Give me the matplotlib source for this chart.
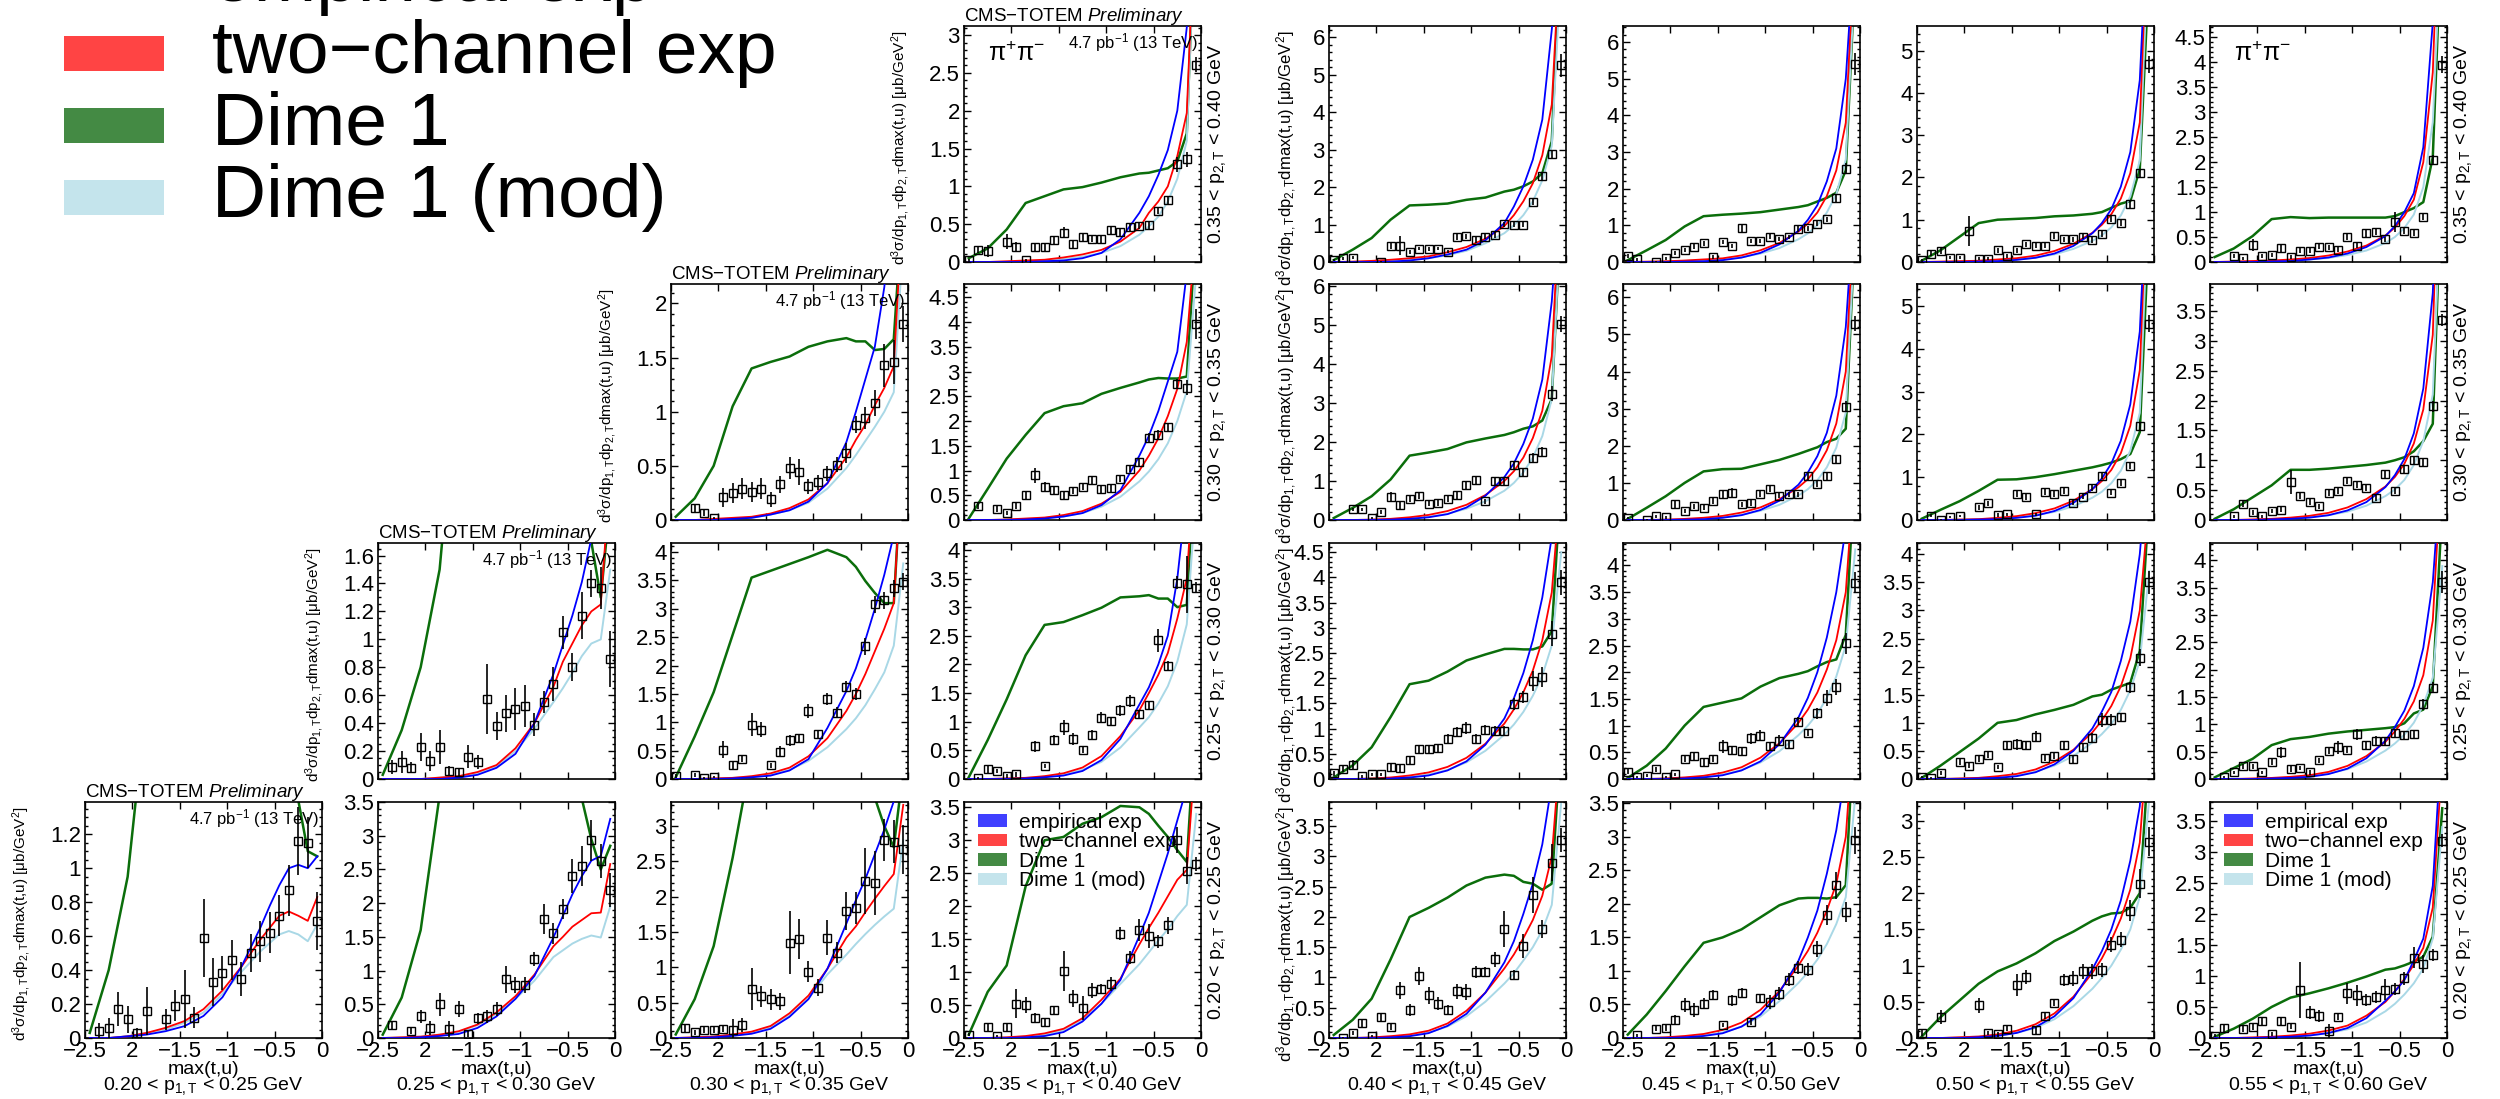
import numpy as np
import matplotlib
matplotlib.use("Agg")
import matplotlib.pyplot as plt
from matplotlib.patches import Patch, Rectangle
from matplotlib.ticker import MultipleLocator, AutoMinorLocator, FormatStrFormatter

plt.rcParams['font.family'] = ['Liberation Sans', 'DejaVu Sans']
plt.rcParams['mathtext.fontset'] = 'custom'
plt.rcParams['mathtext.rm'] = 'Liberation Sans'
plt.rcParams['mathtext.it'] = 'Liberation Sans:italic'
plt.rcParams['mathtext.bf'] = 'Liberation Sans:bold'


### Data ###

# bin centres of max(t,u) for the measured points
tu_bins = [-2.45, -2.35, -2.25, -2.15, -2.05, -1.95, -1.85, -1.75, -1.65, -1.55, -1.45, -1.35, -1.25,
           -1.15, -1.05, -0.95, -0.85, -0.75, -0.65, -0.55, -0.45, -0.35, -0.25, -0.15, -0.05]
# max(t,u) values where the model curves were read
tu_curve = [-2.45, -2.25, -2.05, -1.85, -1.65, -1.45, -1.25, -1.05, -0.85, -0.65, -0.55, -0.45, -0.35, -0.25, -0.15, -0.05]

# p_T bin edges
p1_bins = ['0.20', '0.25', '0.30', '0.35', '0.40', '0.45', '0.50', '0.55', '0.60']
p2_bins = ['0.35', '0.40', '0.30', '0.35', '0.25', '0.30', '0.20', '0.25']  # (low, high) per row, top row first

series_names = ['empirical exp', 'two\u2212channel exp', 'Dime 1', 'Dime 1 (mod)']

# measured cross section per panel (row r, column c), None = no point
data = {
    'r1c4': [0.02, 0.16, 0.15, None, 0.27, 0.2, 0.02, 0.2, 0.2, 0.29, 0.39, 0.24, 0.33, 0.31, 0.3, 0.42, 0.4, 0.46, 0.48, 0.49, 0.68, 0.82, 1.29, 1.36, 2.61],
    'r1c5': [0.05, 0.1, 0.12, None, None, 0.01, 0.44, 0.44, 0.26, 0.36, 0.34, 0.36, 0.28, 0.67, 0.69, 0.59, 0.68, 0.72, 1.01, 1.0, 1.0, 1.59, 2.3, 2.87, 5.25],
    'r1c6': [0.17, 0.07, None, 0.0, 0.1, 0.25, 0.32, 0.42, 0.51, 0.14, 0.54, 0.43, 0.92, 0.57, 0.58, 0.69, 0.62, 0.69, 0.9, 0.92, 1.04, 1.17, 1.75, 2.54, 5.4],
    'r1c7': [0.04, 0.2, 0.26, 0.1, 0.1, 0.74, 0.08, 0.08, 0.28, 0.14, 0.28, 0.42, 0.38, 0.38, 0.62, 0.54, 0.54, 0.6, 0.52, 0.66, 1.02, 0.92, 1.36, 2.1, 4.68],
    'r1c8': [None, None, 0.13, 0.08, 0.35, 0.13, 0.14, 0.28, 0.11, 0.23, 0.23, 0.31, 0.3, 0.25, 0.51, 0.33, 0.58, 0.61, 0.46, 0.81, 0.63, 0.58, 0.91, 2.05, 3.95],
    'r2c3': [None, None, 0.11, 0.065, 0.015, 0.21, 0.25, 0.29, 0.26, 0.29, 0.19, 0.33, 0.48, 0.44, 0.31, 0.35, 0.43, 0.51, 0.62, 0.88, 0.94, 1.08, 1.43, 1.46, 1.81],
    'r2c4': [None, 0.29, None, 0.22, 0.14, 0.28, 0.5, 0.9, 0.67, 0.6, 0.5, 0.58, 0.67, 0.8, 0.62, 0.64, 0.83, 1.04, 1.17, 1.66, 1.72, 1.87, 2.74, 2.67, 3.96],
    'r2c5': [None, None, 0.27, 0.27, 0.05, 0.2, 0.6, 0.38, 0.53, 0.61, 0.42, 0.44, 0.54, 0.63, 0.89, 1.02, 0.48, 1.0, 1.0, 1.4, 1.23, 1.6, 1.75, 3.24, 5.03],
    'r2c6': [0.05, None, 0.01, 0.1, 0.08, 0.42, 0.24, 0.37, 0.33, 0.5, 0.69, 0.74, 0.42, 0.46, 0.69, 0.83, 0.66, 0.69, 0.69, 1.19, 0.96, 1.19, 1.64, 3.05, 5.29],
    'r2c7': [None, 0.1, 0.01, 0.07, 0.09, None, 0.3, 0.39, 0.12, 0.13, 0.6, 0.54, 0.13, 0.66, 0.6, 0.68, 0.4, 0.54, 0.75, 1.03, 0.64, 0.87, 1.27, 2.19, 4.58],
    'r2c8': [None, None, 0.06, 0.26, 0.13, 0.06, 0.15, 0.17, 0.64, 0.4, 0.3, 0.23, 0.46, 0.48, 0.65, 0.59, 0.54, 0.37, 0.77, 0.48, 0.85, 1.0, 0.97, 1.9, 3.34],
    'r3c2': [None, 0.087, 0.12, 0.08, 0.23, 0.13, 0.23, 0.06, 0.05, 0.16, 0.12, 0.57, 0.38, 0.47, 0.5, 0.52, 0.39, 0.55, 0.68, 1.05, 0.8, 1.17, 1.40, 1.37, 0.86],
    'r3c3': [0.05, None, 0.07, 0.02, 0.04, 0.52, 0.24, 0.36, 0.96, 0.87, 0.24, 0.48, 0.68, 0.73, 1.2, 0.8, 1.41, 1.17, 1.63, 1.5, 2.34, 3.08, 3.15, 3.36, 3.48],
    'r3c4': [None, 0.02, 0.17, 0.14, 0.05, 0.08, None, 0.57, 0.23, 0.68, 0.9, 0.7, 0.51, 0.77, 1.07, 1.01, 1.2, 1.36, 1.13, 1.29, 2.42, 1.98, 3.43, 3.4, 3.34],
    'r3c5': [0.11, 0.19, 0.27, 0.05, 0.09, 0.09, 0.23, 0.21, 0.37, 0.59, 0.59, 0.61, 0.8, 0.93, 1.01, 0.8, 0.98, 0.95, 0.96, 1.49, 1.63, 1.95, 2.02, 2.88, 3.9],
    'r3c6': [0.14, 0.03, 0.06, 0.18, 0.03, 0.09, 0.38, 0.43, 0.31, 0.37, 0.61, 0.54, 0.52, 0.76, 0.81, 0.61, 0.72, 0.65, 1.07, 0.86, 1.23, 1.51, 1.72, 2.54, 3.68],
    'r3c7': [0.04, 0.02, 0.11, None, 0.3, 0.24, 0.36, 0.43, 0.21, 0.61, 0.62, 0.6, 0.75, 0.37, 0.41, 0.6, 0.36, 0.57, 0.73, 1.05, 1.05, 1.11, 1.63, 2.16, 3.5],
    'r3c8': [None, 0.03, 0.12, 0.23, 0.23, 0.12, 0.31, 0.49, 0.18, 0.2, 0.12, 0.34, 0.52, 0.58, 0.54, 0.82, 0.62, 0.7, 0.7, 0.84, 0.81, 0.82, 1.37, 1.67, 3.6],
    'r4c1': [None, 0.04, 0.06, 0.17, 0.11, 0.03, 0.16, None, 0.11, 0.19, 0.23, 0.12, 0.59, 0.33, 0.385, 0.46, 0.35, 0.50, 0.57, 0.62, 0.72, 0.87, 1.16, 1.15, 0.69],
    'r4c2': [None, 0.19, None, 0.11, 0.32, 0.15, 0.50, 0.13, 0.43, 0.06, 0.29, 0.32, 0.43, 0.87, 0.79, 0.78, 1.17, 1.76, 1.55, 1.91, 2.40, 2.55, 2.93, 2.62, 2.19],
    'r4c3': [None, 0.14, 0.08, 0.12, 0.12, 0.13, 0.12, 0.19, 0.69, 0.59, 0.55, 0.52, 1.35, 1.40, 0.94, 0.71, 1.42, 1.21, 1.80, 1.84, 2.22, 2.19, 2.80, 2.78, 2.67],
    'r4c4': [0.05, None, 0.16, 0.03, 0.16, 0.52, 0.50, 0.31, 0.24, 0.43, 1.02, 0.60, 0.46, 0.72, 0.75, 0.82, 1.58, 1.22, 1.64, 1.55, 1.47, 1.71, 3.0, 2.54, 2.64],
    'r4c5': [None, 0.0, 0.08, 0.24, 0.03, 0.35, 0.19, 0.79, 0.46, 1.03, 0.71, 0.57, 0.46, 0.77, 0.76, 1.09, 1.09, 1.3, 1.8, 1.04, 1.52, 2.36, 1.8, 2.9, 3.27],
    'r4c6': [None, 0.04, None, 0.14, 0.15, 0.27, 0.49, 0.42, 0.51, 0.64, 0.19, 0.56, 0.67, 0.24, 0.59, 0.54, 0.66, 0.87, 1.05, 1.02, 1.33, 1.84, 2.28, 1.88, 2.95],
    'r4c7': [0.07, None, 0.29, None, None, None, 0.45, 0.07, 0.05, 0.13, 0.73, 0.84, 0.11, 0.31, 0.49, 0.8, 0.82, 0.92, 0.92, 0.94, 1.29, 1.36, 1.76, 2.13, 2.71],
    'r4c8': [0.04, 0.16, None, 0.15, 0.18, 0.27, 0.06, 0.27, 0.18, 0.77, 0.41, 0.35, 0.11, 0.34, 0.72, 0.69, 0.61, 0.66, 0.78, 0.79, 0.96, 1.29, 1.19, 1.34, 3.18],
}

errs = {
    'r1c4': [0.02, 0.04, 0.08, 0, 0.1, 0.06, 0.02, 0.05, 0.05, 0.05, 0.07, 0.05, 0.05, 0.05, 0.05, 0.05, 0.05, 0.05, 0.05, 0.05, 0.05, 0.05, 0.1, 0.1, 0.1],
    'r1c5': [0.03, 0.04, 0.05, 0, 0, 0.03, 0.08, 0.25, 0.05, 0.05, 0.05, 0.05, 0.05, 0.07, 0.07, 0.07, 0.07, 0.07, 0.07, 0.07, 0.07, 0.08, 0.1, 0.12, 0.3],
    'r1c6': [0.05, 0.04, 0, 0.02, 0.04, 0.05, 0.06, 0.06, 0.06, 0.05, 0.06, 0.06, 0.12, 0.06, 0.06, 0.07, 0.06, 0.06, 0.07, 0.07, 0.07, 0.07, 0.1, 0.15, 0.3],
    'r1c7': [0.03, 0.06, 0.06, 0.04, 0.04, 0.35, 0.04, 0.04, 0.06, 0.04, 0.06, 0.06, 0.06, 0.06, 0.07, 0.06, 0.06, 0.06, 0.06, 0.07, 0.07, 0.07, 0.08, 0.1, 0.2],
    'r1c8': [0, 0, 0.04, 0.03, 0.12, 0.04, 0.04, 0.07, 0.04, 0.05, 0.05, 0.05, 0.05, 0.05, 0.07, 0.05, 0.07, 0.07, 0.05, 0.2, 0.06, 0.06, 0.07, 0.1, 0.17],
    'r2c3': [0, 0, 0.04, 0.03, 0.01, 0.09, 0.09, 0.1, 0.09, 0.1, 0.07, 0.08, 0.1, 0.12, 0.07, 0.07, 0.07, 0.07, 0.09, 0.08, 0.1, 0.12, 0.2, 0.2, 0.17],
    'r2c4': [0, 0.06, 0, 0.06, 0.04, 0.06, 0.08, 0.15, 0.1, 0.07, 0.07, 0.06, 0.07, 0.07, 0.07, 0.07, 0.07, 0.07, 0.07, 0.1, 0.1, 0.1, 0.1, 0.15, 0.3],
    'r2c5': [0, 0, 0.05, 0.05, 0.03, 0.05, 0.12, 0.1, 0.08, 0.08, 0.07, 0.07, 0.08, 0.08, 0.1, 0.1, 0.07, 0.1, 0.1, 0.1, 0.1, 0.12, 0.12, 0.2, 0.2],
    'r2c6': [0.03, 0, 0.02, 0.04, 0.04, 0.1, 0.06, 0.07, 0.07, 0.08, 0.1, 0.12, 0.07, 0.07, 0.08, 0.08, 0.07, 0.07, 0.07, 0.1, 0.08, 0.1, 0.1, 0.15, 0.2],
    'r2c7': [0, 0.04, 0.02, 0.03, 0.03, 0, 0.06, 0.06, 0.04, 0.04, 0.07, 0.07, 0.04, 0.07, 0.07, 0.07, 0.06, 0.06, 0.07, 0.07, 0.06, 0.07, 0.07, 0.1, 0.2],
    'r2c8': [0, 0, 0.03, 0.05, 0.04, 0.03, 0.04, 0.04, 0.2, 0.05, 0.05, 0.04, 0.05, 0.05, 0.05, 0.06, 0.05, 0.05, 0.06, 0.05, 0.06, 0.07, 0.07, 0.1, 0.1],
    'r3c2': [0, 0.05, 0.08, 0.04, 0.1, 0.07, 0.12, 0.03, 0.03, 0.08, 0.05, 0.25, 0.1, 0.13, 0.15, 0.15, 0.08, 0.08, 0.12, 0.12, 0.1, 0.17, 0.1, 0.15, 0.2],
    'r3c3': [0.03, 0, 0.03, 0.02, 0.02, 0.15, 0.07, 0.06, 0.2, 0.13, 0.05, 0.1, 0.1, 0.07, 0.12, 0.07, 0.1, 0.1, 0.1, 0.1, 0.15, 0.15, 0.15, 0.15, 0.15],
    'r3c4': [0, 0.02, 0.07, 0.04, 0.03, 0.04, 0, 0.1, 0.04, 0.08, 0.13, 0.1, 0.05, 0.08, 0.1, 0.07, 0.1, 0.1, 0.07, 0.07, 0.2, 0.08, 0.12, 0.5, 0.1],
    'r3c5': [0.05, 0.06, 0.1, 0.03, 0.03, 0.03, 0.07, 0.07, 0.07, 0.09, 0.09, 0.09, 0.1, 0.1, 0.12, 0.1, 0.1, 0.1, 0.1, 0.12, 0.12, 0.2, 0.2, 0.25, 0.25],
    'r3c6': [0.05, 0.02, 0.03, 0.05, 0.02, 0.03, 0.06, 0.07, 0.06, 0.06, 0.12, 0.07, 0.07, 0.1, 0.1, 0.08, 0.1, 0.08, 0.1, 0.06, 0.1, 0.15, 0.15, 0.2, 0.2],
    'r3c7': [0.02, 0.02, 0.03, 0, 0.05, 0.05, 0.05, 0.05, 0.04, 0.07, 0.1, 0.07, 0.1, 0.05, 0.06, 0.07, 0.07, 0.07, 0.08, 0.12, 0.1, 0.07, 0.1, 0.15, 0.2],
    'r3c8': [0, 0.02, 0.03, 0.05, 0.05, 0.03, 0.05, 0.1, 0.05, 0.04, 0.04, 0.05, 0.07, 0.12, 0.06, 0.1, 0.08, 0.08, 0.07, 0.07, 0.07, 0.07, 0.1, 0.1, 0.2],
    'r4c1': [0, 0.05, 0.06, 0.1, 0.08, 0.03, 0.14, 0, 0.06, 0.09, 0.17, 0.06, 0.23, 0.14, 0.1, 0.12, 0.1, 0.11, 0.12, 0.12, 0.12, 0.15, 0.2, 0.15, 0.17],
    'r4c2': [0, 0.06, 0, 0.05, 0.1, 0.1, 0.17, 0.12, 0.12, 0.05, 0.08, 0.1, 0.1, 0.2, 0.12, 0.12, 0.1, 0.22, 0.15, 0.15, 0.25, 0.3, 0.3, 0.25, 0.25],
    'r4c3': [0, 0.05, 0.04, 0.05, 0.05, 0.05, 0.15, 0.1, 0.3, 0.15, 0.15, 0.12, 0.45, 0.28, 0.15, 0.12, 0.25, 0.15, 0.27, 0.22, 0.47, 0.45, 0.3, 0.3, 0.35],
    'r4c4': [0.02, 0, 0.05, 0.02, 0.05, 0.22, 0.12, 0.07, 0.07, 0.06, 0.3, 0.13, 0.18, 0.12, 0.07, 0.1, 0.1, 0.1, 0.17, 0.18, 0.1, 0.13, 0.2, 0.2, 0.1],
    'r4c5': [0, 0.02, 0.03, 0.05, 0.02, 0.07, 0.05, 0.14, 0.1, 0.15, 0.14, 0.1, 0.08, 0.13, 0.13, 0.1, 0.08, 0.12, 0.3, 0.08, 0.2, 0.3, 0.15, 0.3, 0.2],
    'r4c6': [0, 0.02, 0, 0.04, 0.05, 0.07, 0.1, 0.1, 0.08, 0.07, 0.03, 0.08, 0.07, 0.05, 0.07, 0.1, 0.1, 0.1, 0.1, 0.1, 0.12, 0.15, 0.2, 0.15, 0.2],
    'r4c7': [0.04, 0, 0.1, 0, 0, 0, 0.1, 0.03, 0.03, 0.04, 0.15, 0.1, 0.05, 0.05, 0.05, 0.08, 0.1, 0.1, 0.1, 0.1, 0.1, 0.1, 0.15, 0.2, 0.2],
    'r4c8': [0.02, 0.07, 0, 0.05, 0.05, 0.07, 0.03, 0.07, 0.04, 0.45, 0.1, 0.1, 0.12, 0.05, 0.17, 0.17, 0.1, 0.1, 0.17, 0.1, 0.1, 0.17, 0.15, 0.1, 0.1],
}

# model curves (values at tu_curve)
emp = {
    'r1c4': [0, 0, 0, 0, 0.01, 0.02, 0.05, 0.12, 0.3, 0.65, 0.87, 1.15, 1.48, 2.0, 3.1, 6],
    'r1c5': [0, 0, 0, 0.01, 0.04, 0.1, 0.2, 0.33, 0.58, 1.04, 1.48, 2.02, 2.73, 3.8, 6.2, 9],
    'r1c6': [0, 0, 0, 0.01, 0.02, 0.05, 0.12, 0.25, 0.48, 0.85, 1.15, 1.55, 2.2, 3.1, 5.0, 9],
    'r1c7': [0, 0, 0, 0.01, 0.02, 0.05, 0.1, 0.2, 0.38, 0.68, 0.92, 1.25, 1.78, 2.6, 4.3, 9],
    'r1c8': [0, 0, 0, 0.01, 0.02, 0.05, 0.09, 0.17, 0.3, 0.52, 0.72, 1.0, 1.38, 2.3, 4.8, 9],
    'r2c3': [0, 0, 0, 0.01, 0.02, 0.05, 0.09, 0.17, 0.34, 0.72, 1.0, 1.3, 1.6, 2.15, 3.0, 4],
    'r2c4': [0, 0, 0, 0.01, 0.03, 0.07, 0.14, 0.3, 0.6, 1.3, 1.7, 2.2, 2.8, 3.4, 5, 7],
    'r2c5': [0, 0, 0, 0.01, 0.03, 0.07, 0.15, 0.32, 0.62, 1.1, 1.45, 1.95, 2.6, 3.6, 5.6, 9],
    'r2c6': [0, 0, 0, 0.01, 0.02, 0.06, 0.13, 0.27, 0.52, 0.95, 1.28, 1.72, 2.35, 3.35, 5.2, 9],
    'r2c7': [0, 0, 0, 0.01, 0.02, 0.05, 0.1, 0.21, 0.4, 0.72, 0.97, 1.32, 1.85, 2.7, 4.4, 9],
    'r2c8': [0, 0, 0, 0.01, 0.02, 0.04, 0.08, 0.16, 0.3, 0.55, 0.75, 1.02, 1.45, 2.2, 3.8, 8],
    'r3c2': [0, 0, 0, 0, 0.01, 0.03, 0.08, 0.18, 0.4, 0.75, 0.96, 1.17, 1.41, 1.72, 2.0, 2.5],
    'r3c3': [0, 0, 0, 0.01, 0.03, 0.06, 0.15, 0.35, 0.9, 1.55, 1.95, 2.45, 3.0, 3.6, 4.3, 6],
    'r3c4': [0, 0, 0, 0.01, 0.03, 0.06, 0.14, 0.33, 0.7, 1.3, 1.6, 2.0, 2.5, 3.5, 5, 6],
    'r3c5': [0, 0, 0, 0.01, 0.03, 0.07, 0.17, 0.35, 0.68, 1.2, 1.6, 2.1, 2.75, 3.6, 4.8, 7],
    'r3c6': [0, 0, 0, 0.01, 0.03, 0.07, 0.16, 0.33, 0.65, 1.15, 1.52, 2.0, 2.65, 3.5, 4.7, 7],
    'r3c7': [0, 0, 0, 0.01, 0.02, 0.05, 0.12, 0.26, 0.5, 0.9, 1.2, 1.55, 2.1, 2.8, 4.0, 6],
    'r3c8': [0, 0, 0, 0.01, 0.02, 0.04, 0.09, 0.19, 0.38, 0.7, 0.95, 1.25, 1.7, 2.4, 3.6, 6],
    'r4c1': [0, 0, 0.01, 0.02, 0.04, 0.07, 0.13, 0.24, 0.42, 0.65, 0.78, 0.90, 1.00, 1.02, 1.00, 1.07],
    'r4c2': [0, 0, 0.01, 0.03, 0.06, 0.15, 0.32, 0.58, 0.92, 1.49, 1.81, 2.13, 2.4, 2.63, 2.7, 3.25],
    'r4c3': [0, 0, 0.01, 0.03, 0.06, 0.13, 0.3, 0.55, 0.98, 1.62, 1.95, 2.25, 2.6, 2.95, 3.35, 4.0],
    'r4c4': [0, 0, 0, 0.01, 0.03, 0.09, 0.25, 0.52, 0.88, 1.55, 1.9, 2.35, 2.8, 3.3, 3.8, 5],
    'r4c5': [0, 0, 0, 0.01, 0.03, 0.08, 0.2, 0.4, 0.75, 1.25, 1.6, 2.05, 2.55, 3.2, 4.2, 6],
    'r4c6': [0, 0, 0, 0.01, 0.03, 0.07, 0.17, 0.35, 0.68, 1.15, 1.5, 1.9, 2.45, 3.1, 4.0, 6],
    'r4c7': [0, 0, 0, 0.01, 0.03, 0.07, 0.15, 0.3, 0.55, 0.95, 1.2, 1.5, 1.9, 2.45, 3.2, 5],
    'r4c8': [0, 0, 0, 0.01, 0.02, 0.04, 0.08, 0.16, 0.32, 0.6, 0.75, 0.93, 1.25, 1.6, 2.45, 5],
}

two = {
    'r1c4': [0, 0, 0.01, 0.02, 0.03, 0.06, 0.1, 0.16, 0.27, 0.45, 0.65, 0.8, 1.0, 1.4, 1.97, 5],
    'r1c5': [0, 0.01, 0.03, 0.06, 0.1, 0.15, 0.26, 0.4, 0.62, 0.96, 1.25, 1.62, 2.1, 2.85, 4.2, 9],
    'r1c6': [0, 0.01, 0.02, 0.04, 0.07, 0.1, 0.18, 0.32, 0.52, 0.83, 1.05, 1.35, 1.8, 2.5, 3.8, 9],
    'r1c7': [0, 0.01, 0.02, 0.03, 0.06, 0.09, 0.15, 0.26, 0.43, 0.69, 0.88, 1.13, 1.5, 2.1, 3.3, 9],
    'r1c8': [0, 0.01, 0.02, 0.03, 0.05, 0.08, 0.13, 0.21, 0.33, 0.53, 0.69, 0.92, 1.25, 2.0, 3.8, 9],
    'r2c3': [0, 0, 0.01, 0.02, 0.03, 0.06, 0.11, 0.19, 0.34, 0.58, 0.74, 0.88, 1.06, 1.22, 1.42, 3],
    'r2c4': [0, 0, 0.01, 0.03, 0.05, 0.1, 0.18, 0.33, 0.57, 1.0, 1.3, 1.65, 2.1, 2.65, 3.6, 6],
    'r2c5': [0, 0, 0.01, 0.03, 0.07, 0.13, 0.23, 0.39, 0.64, 1.0, 1.25, 1.6, 2.1, 2.8, 4.2, 9],
    'r2c6': [0, 0, 0.01, 0.03, 0.06, 0.11, 0.2, 0.34, 0.56, 0.88, 1.1, 1.42, 1.88, 2.6, 4.0, 9],
    'r2c7': [0, 0, 0.01, 0.02, 0.05, 0.09, 0.16, 0.27, 0.45, 0.72, 0.91, 1.17, 1.56, 2.2, 3.5, 9],
    'r2c8': [0, 0, 0.01, 0.02, 0.04, 0.07, 0.12, 0.21, 0.35, 0.56, 0.72, 0.94, 1.28, 1.85, 3.1, 8],
    'r3c2': [0, 0, 0, 0.01, 0.02, 0.05, 0.1, 0.22, 0.4, 0.66, 0.84, 0.97, 1.1, 1.2, 1.25, 2.2],
    'r3c3': [0, 0, 0.01, 0.02, 0.05, 0.1, 0.2, 0.4, 0.72, 1.2, 1.5, 1.85, 2.25, 2.65, 3.1, 6],
    'r3c4': [0, 0, 0.01, 0.02, 0.05, 0.1, 0.2, 0.4, 0.75, 1.2, 1.5, 1.82, 2.2, 2.8, 3.5, 6],
    'r3c5': [0, 0, 0.01, 0.03, 0.07, 0.13, 0.24, 0.42, 0.7, 1.1, 1.38, 1.72, 2.15, 2.75, 3.7, 6],
    'r3c6': [0, 0, 0.01, 0.03, 0.06, 0.12, 0.22, 0.4, 0.67, 1.05, 1.3, 1.62, 2.05, 2.6, 3.5, 6],
    'r3c7': [0, 0, 0.01, 0.02, 0.05, 0.09, 0.17, 0.31, 0.52, 0.83, 1.04, 1.3, 1.65, 2.15, 3.0, 5],
    'r3c8': [0, 0, 0.01, 0.02, 0.04, 0.07, 0.13, 0.24, 0.42, 0.68, 0.87, 1.1, 1.42, 1.9, 2.9, 6],
    'r4c1': [0, 0, 0.01, 0.03, 0.06, 0.10, 0.17, 0.28, 0.42, 0.58, 0.65, 0.72, 0.745, 0.72, 0.69, 0.83],
    'r4c2': [0, 0.01, 0.02, 0.05, 0.1, 0.2, 0.38, 0.62, 0.94, 1.36, 1.5, 1.65, 1.75, 1.85, 1.86, 2.58],
    'r4c3': [0, 0.01, 0.02, 0.05, 0.09, 0.17, 0.35, 0.6, 0.98, 1.42, 1.58, 1.78, 1.97, 2.15, 2.32, 3.3],
    'r4c4': [0, 0, 0.01, 0.03, 0.07, 0.14, 0.3, 0.58, 0.9, 1.42, 1.67, 1.9, 2.15, 2.4, 2.55, 4.5],
    'r4c5': [0, 0, 0.01, 0.03, 0.06, 0.12, 0.24, 0.45, 0.75, 1.15, 1.38, 1.65, 1.95, 2.35, 3.0, 5],
    'r4c6': [0, 0, 0.01, 0.03, 0.06, 0.12, 0.23, 0.42, 0.7, 1.08, 1.3, 1.57, 1.9, 2.3, 3.0, 5],
    'r4c7': [0, 0, 0.01, 0.02, 0.05, 0.1, 0.19, 0.34, 0.57, 0.9, 1.1, 1.35, 1.65, 2.05, 2.7, 4.5],
    'r4c8': [0, 0, 0.01, 0.02, 0.04, 0.07, 0.12, 0.2, 0.36, 0.58, 0.75, 0.95, 1.18, 1.45, 2.1, 4.5],
}

dime = {
    'r1c4': [0.05, 0.18, 0.43, 0.78, 0.87, 0.96, 0.99, 1.05, 1.12, 1.17, 1.18, 1.21, 1.24, 1.33, 1.7, 5],
    'r1c5': [0.05, 0.33, 0.64, 1.13, 1.51, 1.53, 1.56, 1.66, 1.72, 1.88, 1.93, 2.02, 2.15, 2.37, 3.22, 9],
    'r1c6': [0.05, 0.32, 0.6, 0.97, 1.25, 1.29, 1.32, 1.36, 1.43, 1.5, 1.55, 1.65, 1.75, 1.89, 2.5, 8],
    'r1c7': [0.03, 0.28, 0.6, 0.92, 1.0, 1.02, 1.04, 1.08, 1.1, 1.14, 1.18, 1.28, 1.38, 1.44, 2.2, 7],
    'r1c8': [0.1, 0.27, 0.52, 0.86, 0.9, 0.88, 0.89, 0.89, 0.89, 0.89, 0.92, 1.0, 1.08, 1.2, 2.1, 7],
    'r2c3': [0.03, 0.2, 0.5, 1.05, 1.4, 1.46, 1.51, 1.6, 1.65, 1.68, 1.65, 1.65, 1.57, 1.58, 1.67, 3],
    'r2c4': [0.03, 0.63, 1.24, 1.72, 2.16, 2.3, 2.36, 2.55, 2.67, 2.78, 2.84, 2.87, 2.86, 2.86, 2.9, 6],
    'r2c5': [0.05, 0.31, 0.61, 1.04, 1.65, 1.73, 1.82, 1.99, 2.09, 2.18, 2.25, 2.34, 2.4, 2.55, 3.1, 8],
    'r2c6': [0.03, 0.33, 0.64, 1.0, 1.31, 1.37, 1.38, 1.5, 1.62, 1.78, 1.87, 1.96, 2.1, 2.19, 2.46, 8],
    'r2c7': [0.03, 0.24, 0.44, 0.68, 0.94, 0.95, 1.0, 1.07, 1.15, 1.23, 1.28, 1.34, 1.42, 1.54, 2.05, 7],
    'r2c8': [0.02, 0.18, 0.38, 0.58, 0.84, 0.84, 0.86, 0.89, 0.92, 0.96, 1.0, 1.05, 1.15, 1.32, 1.61, 6],
    'r3c2': [0.03, 0.35, 0.8, 1.5, 3, 4, 4, 4, 4, 4, 4, 4, 2.5, 1.7, 1.3, 2.0],
    'r3c3': [0.03, 0.75, 1.53, 2.54, 3.55, 3.67, 3.79, 3.91, 4.04, 3.91, 3.74, 3.49, 3.28, 3.1, 3.1, 6],
    'r3c4': [0.03, 0.68, 1.39, 2.16, 2.69, 2.74, 2.86, 2.99, 3.17, 3.19, 3.21, 3.15, 3.15, 3.0, 3.04, 6],
    'r3c5': [0.03, 0.27, 0.63, 1.23, 1.88, 1.95, 2.13, 2.35, 2.47, 2.58, 2.58, 2.57, 2.57, 2.63, 2.93, 6],
    'r3c6': [0.02, 0.25, 0.57, 1.0, 1.35, 1.43, 1.51, 1.73, 1.89, 1.97, 2.02, 2.11, 2.19, 2.24, 2.7, 6],
    'r3c7': [0.02, 0.24, 0.48, 0.72, 1.0, 1.05, 1.15, 1.23, 1.32, 1.47, 1.5, 1.59, 1.65, 1.71, 2.28, 5],
    'r3c8': [0.03, 0.2, 0.37, 0.62, 0.73, 0.77, 0.83, 0.87, 0.9, 0.93, 0.95, 1.02, 1.2, 1.27, 1.7, 5],
    'r4c1': [0.03, 0.4, 0.95, 2.0, 3.5, 5, 5, 5, 5, 5, 5, 4, 2.5, 1.4, 1.1, 1.07],
    'r4c2': [0.05, 0.6, 1.6, 3.6, 6, 6, 6, 6, 6, 6, 6, 4.5, 3.55, 2.95, 2.5, 2.85],
    'r4c3': [0.05, 0.55, 1.3, 2.55, 4, 6, 6, 6, 6, 6, 6, 4.5, 3.4, 3.0, 2.7, 3.8],
    'r4c4': [0.05, 0.7, 1.1, 2.3, 3.0, 3.05, 3.25, 3.35, 3.52, 3.5, 3.4, 3.22, 3.05, 2.85, 2.67, 5],
    'r4c5': [0.05, 0.3, 0.65, 1.3, 2.0, 2.15, 2.32, 2.52, 2.65, 2.7, 2.68, 2.58, 2.55, 2.45, 2.55, 5],
    'r4c6': [0.05, 0.35, 0.7, 1.07, 1.42, 1.5, 1.62, 1.8, 1.98, 2.08, 2.09, 2.09, 2.08, 2.1, 2.28, 5],
    'r4c7': [0.02, 0.29, 0.52, 0.75, 0.92, 1.03, 1.17, 1.34, 1.47, 1.62, 1.68, 1.72, 1.73, 1.8, 2.0, 4],
    'r4c8': [0.02, 0.15, 0.31, 0.5, 0.65, 0.72, 0.8, 0.89, 0.99, 1.1, 1.12, 1.17, 1.23, 1.31, 1.63, 3.7],
}

dime_mod = {
    'r1c4': [0, 0, 0, 0.01, 0.02, 0.04, 0.07, 0.12, 0.21, 0.36, 0.47, 0.6, 0.8, 1.1, 1.6, 5],
    'r1c5': [0, 0, 0.02, 0.04, 0.07, 0.1, 0.18, 0.3, 0.5, 0.77, 0.98, 1.25, 1.62, 2.18, 3.1, 8],
    'r1c6': [0, 0, 0.01, 0.03, 0.05, 0.07, 0.13, 0.23, 0.38, 0.62, 0.78, 1.0, 1.35, 1.85, 2.8, 8],
    'r1c7': [0, 0, 0.01, 0.02, 0.04, 0.06, 0.1, 0.18, 0.31, 0.5, 0.63, 0.82, 1.1, 1.55, 2.4, 8],
    'r1c8': [0, 0, 0.01, 0.02, 0.03, 0.05, 0.08, 0.14, 0.23, 0.38, 0.5, 0.68, 0.95, 1.5, 2.8, 7],
    'r2c3': [0, 0, 0, 0.01, 0.02, 0.05, 0.09, 0.16, 0.29, 0.48, 0.6, 0.73, 0.86, 1.0, 1.18, 2.6],
    'r2c4': [0, 0, 0.01, 0.02, 0.04, 0.07, 0.14, 0.27, 0.47, 0.78, 0.98, 1.23, 1.55, 2.0, 2.6, 5],
    'r2c5': [0, 0, 0.01, 0.02, 0.04, 0.08, 0.16, 0.29, 0.48, 0.75, 0.95, 1.22, 1.6, 2.15, 3.1, 8],
    'r2c6': [0, 0, 0.01, 0.02, 0.04, 0.07, 0.14, 0.25, 0.41, 0.66, 0.83, 1.07, 1.42, 1.95, 2.9, 8],
    'r2c7': [0, 0, 0.01, 0.02, 0.03, 0.06, 0.11, 0.19, 0.32, 0.52, 0.66, 0.86, 1.15, 1.62, 2.5, 8],
    'r2c8': [0, 0, 0, 0.01, 0.03, 0.05, 0.08, 0.14, 0.24, 0.4, 0.51, 0.67, 0.92, 1.32, 2.1, 6],
    'r3c2': [0, 0, 0, 0.01, 0.02, 0.04, 0.09, 0.2, 0.36, 0.55, 0.65, 0.76, 0.88, 0.97, 1.0, 1.5],
    'r3c3': [0, 0, 0.01, 0.02, 0.04, 0.08, 0.16, 0.32, 0.56, 0.88, 1.07, 1.3, 1.58, 1.88, 2.35, 3.8],
    'r3c4': [0, 0, 0.01, 0.02, 0.04, 0.08, 0.16, 0.3, 0.55, 0.9, 1.08, 1.32, 1.62, 2.05, 2.7, 5],
    'r3c5': [0, 0, 0.01, 0.02, 0.04, 0.09, 0.18, 0.33, 0.56, 0.88, 1.08, 1.33, 1.65, 2.05, 2.65, 4.5],
    'r3c6': [0, 0, 0.01, 0.02, 0.04, 0.08, 0.17, 0.31, 0.52, 0.82, 1.0, 1.22, 1.52, 1.92, 2.5, 4.3],
    'r3c7': [0, 0, 0.01, 0.02, 0.03, 0.06, 0.13, 0.24, 0.41, 0.65, 0.8, 0.98, 1.23, 1.58, 2.1, 3.7],
    'r3c8': [0, 0, 0, 0.01, 0.03, 0.05, 0.1, 0.18, 0.32, 0.52, 0.65, 0.81, 1.03, 1.35, 1.85, 3.9],
    'r4c1': [0, 0, 0.01, 0.03, 0.05, 0.09, 0.15, 0.26, 0.39, 0.51, 0.56, 0.61, 0.63, 0.61, 0.57, 0.67],
    'r4c2': [0, 0.01, 0.02, 0.05, 0.09, 0.19, 0.36, 0.58, 0.85, 1.2, 1.3, 1.4, 1.47, 1.52, 1.49, 1.95],
    'r4c3': [0, 0.01, 0.02, 0.04, 0.08, 0.15, 0.32, 0.56, 0.9, 1.18, 1.33, 1.47, 1.6, 1.72, 1.83, 2.8],
    'r4c4': [0, 0, 0.01, 0.02, 0.05, 0.12, 0.28, 0.52, 0.82, 1.12, 1.3, 1.48, 1.65, 1.85, 2.02, 3.4],
    'r4c5': [0, 0, 0.01, 0.02, 0.04, 0.09, 0.19, 0.36, 0.6, 0.9, 1.07, 1.28, 1.5, 1.78, 2.2, 3.9],
    'r4c6': [0, 0, 0.01, 0.02, 0.04, 0.08, 0.17, 0.32, 0.55, 0.82, 0.98, 1.17, 1.4, 1.7, 2.1, 3.6],
    'r4c7': [0, 0, 0.01, 0.02, 0.03, 0.07, 0.14, 0.26, 0.44, 0.68, 0.83, 1.0, 1.22, 1.5, 1.95, 3.3],
    'r4c8': [0, 0, 0, 0.01, 0.02, 0.04, 0.08, 0.14, 0.25, 0.43, 0.55, 0.7, 0.88, 1.12, 1.6, 3.4],
}

# upper end of the y axis in every panel
ytop = {
    'r1c4': 3.12, 'r1c5': 6.3, 'r1c6': 6.44, 'r1c7': 5.58, 'r1c8': 4.73,
    'r2c3': 2.18, 'r2c4': 4.77, 'r2c5': 6.05, 'r2c6': 6.36, 'r2c7': 5.51, 'r2c8': 3.95,
    'r3c2': 1.69, 'r3c3': 4.16, 'r3c4': 4.12, 'r3c5': 4.68, 'r3c6': 4.42, 'r3c7': 4.2, 'r3c8': 4.32,
    'r4c1': 1.39, 'r4c2': 3.5, 'r4c3': 3.34, 'r4c4': 3.58, 'r4c5': 3.9, 'r4c6': 3.52, 'r4c7': 3.26, 'r4c8': 3.8,
}


### Style ###

c_emp, c_two, c_dime, c_mod = '#0000ff', '#ff0000', '#0b6e0b', '#a9d8e6'
patch_cols = ['#4040ff', '#ff4444', '#448a44', '#c4e4ec']

W, H = 2500, 1099
col_x = [85, 378, 671, 964, 1329, 1623, 1917, 2210]
row_y = [26, 284, 543, 802]
pw, ph = 237, 236

ylab = r'd$^{3}$σ/dp$_{\mathrm{1,T}}$dp$_{\mathrm{2,T}}$dmax(t,u) [μb/GeV$^{2}$]'
xtick_labels = ['\u22122.5', '2', '\u22121.5', '\u22121', '\u22120.5', '0']

fig = plt.figure(figsize=(W / 100, H / 100), dpi=100)


### Panels ###

for key in data:
    r, c = int(key[1]), int(key[3])
    ax = fig.add_axes([col_x[c - 1] / W, 1 - (row_y[r - 1] + ph) / H, pw / W, ph / H])

    ax.plot(tu_curve, dime[key], color=c_dime, lw=1.8, zorder=2)
    ax.plot(tu_curve, dime_mod[key], color=c_mod, lw=1.4, zorder=2)
    ax.plot(tu_curve, two[key], color=c_two, lw=1.3, zorder=3)
    ax.plot(tu_curve, emp[key], color=c_emp, lw=1.3, zorder=3)

    y = np.array(data[key], dtype=float)
    ax.errorbar(tu_bins, y, yerr=errs[key], fmt='s', ms=5.5, mfc='none', mec='black', mew=1.0,
                ecolor='black', elinewidth=1.2, capsize=0, zorder=5)

    ax.set_xlim(-2.5, 0)
    ax.set_ylim(0, ytop[key])

    # ticks, ROOT style
    step = 0.2 if ytop[key] < 2 else (1.0 if ytop[key] > 5 else 0.5)
    ax.yaxis.set_major_locator(MultipleLocator(step))
    ax.yaxis.set_minor_locator(AutoMinorLocator(4 if step == 0.2 else 5))
    ax.yaxis.set_major_formatter(FormatStrFormatter('%g'))
    ax.set_xticks([-2.5, -2, -1.5, -1, -0.5, 0])
    ax.tick_params(which='both', direction='in', top=True, right=True, width=1.0, labelsize=16)
    ax.tick_params(which='major', length=5)
    ax.tick_params(which='minor', length=2.5)
    ax.tick_params(axis='y', pad=3)
    ax.tick_params(axis='x', pad=2)
    for s in ax.spines.values():
        s.set_linewidth(1.2)

    if r == 4:
        ax.set_xticklabels(xtick_labels)
        cx = (col_x[c - 1] + pw / 2) / W
        fig.text(cx, 1 - 1074 / H, 'max(t,u)', ha='center', va='baseline', fontsize=14)
        fig.text(cx, 1 - 1090 / H, p1_bins[c - 1] + r' < p$_{\mathrm{1,T}}$ < ' + p1_bins[c] + ' GeV',
                 ha='center', va='baseline', fontsize=14)
    else:
        ax.set_xticklabels([])

    # first panel of each row on the left carries the CMS header
    first = (c == 5 - r)
    if first:
        ax.text(0, 1 + 5 / ph, r'CMS$-$TOTEM $\mathit{Preliminary}$', transform=ax.transAxes,
                ha='left', va='baseline', fontsize=13.5)
        ax.text(1 - 3 / pw, 1 - 5 / ph, r'4.7 pb$^{-1}$ (13 TeV)', transform=ax.transAxes,
                ha='right', va='top', fontsize=12)
        ax.text(-63 / pw, 1 - 4 / ph, ylab, transform=ax.transAxes, rotation=90,
                ha='center', va='top', fontsize=11)
    if c == 5:
        ax.text(-42 / pw, 1 - 4 / ph, ylab, transform=ax.transAxes, rotation=90,
                ha='center', va='top', fontsize=12)

    if r == 1 and c in (4, 8):
        ax.text(24 / pw, 1 - 16 / ph, r'π$^{+}$π$^{-}$', transform=ax.transAxes,
                ha='left', va='top', fontsize=18)

    if c in (4, 8):
        lo, hi = p2_bins[2 * (r - 1)], p2_bins[2 * (r - 1) + 1]
        ax.text(1 + 16 / pw, 0.5, lo + r' < p$_{\mathrm{2,T}}$ < ' + hi + ' GeV', transform=ax.transAxes,
                rotation=90, ha='center', va='center', fontsize=14)

    if r == 4 and c in (4, 8):
        handles = [Patch(facecolor=pc, edgecolor='none') for pc in patch_cols]
        ax.legend(handles, series_names, loc='upper left', bbox_to_anchor=(14 / pw, 1 - 11 / ph),
                  frameon=False, fontsize=15, handlelength=1.4, handleheight=0.55,
                  handletextpad=0.55, labelspacing=0.02, borderpad=0, borderaxespad=0)


### Big legend in the top left corner (partly outside the picture) ###

for i, (name, pc) in enumerate(zip(series_names, patch_cols)):
    cy = -19 + 72 * i
    fig.add_artist(Rectangle((64 / W, 1 - (cy + 17.5) / H), 100 / W, 35 / H,
                             transform=fig.transFigure, facecolor=pc, edgecolor='none'))
    fig.text(212 / W, 1 - cy / H, name, ha='left', va='center', fontsize=54)

plt.savefig('out.png', dpi=100)
